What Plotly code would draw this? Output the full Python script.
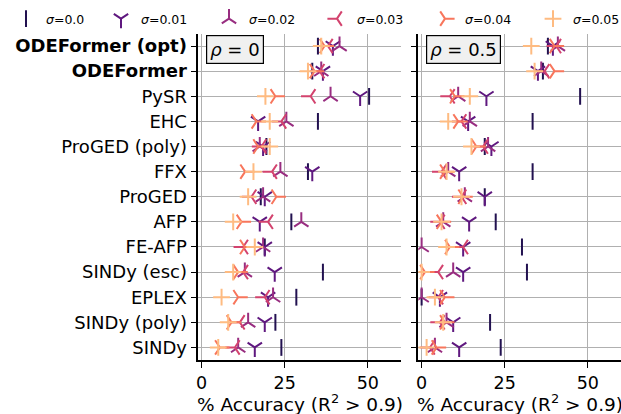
import plotly.graph_objects as go

methods = ["ODEFormer (opt)", "ODEFormer", "PySR", "EHC", "ProGED (poly)", "FFX",
           "ProGED", "AFP", "FE-AFP", "SINDy (esc)", "EPLEX", "SINDy (poly)", "SINDy"]
method_labels = ["<b>ODEFormer (opt)</b>", "<b>ODEFormer</b>"] + methods[2:]
sigmas = ["0.0", "0.01", "0.02", "0.03", "0.04", "0.05"]
x_ticks = [0, 25, 50]

# accuracy (%) for rho = 0, one list per noise level sigma, rows in method order
rho0_s000 = [35, 33.3, 50.4, 35, 19.5, 32, 17.8, 27, 19, 36.5, 28.5, 22.2, 24]
rho0_s001 = [39.5, 36.5, 47.7, 17, 18.5, 33.3, 19, 17.5, 19, 22, 20, 19, 16]
rho0_s002 = [41.5, 36, 38.8, 25.5, 17.5, 23.7, 18.5, 30, 18.5, 13, 21.5, 14, 11]
rho0_s003 = [38, 35.5, 32.8, 24, 18, 21.2, 15, 20, 12.5, 12.5, 19, 11.5, 10]
rho0_s004 = [37, 34, 22.2, 16.5, 17, 13.1, 22.5, 12, 13, 11, 11, 9, 5.5]
rho0_s005 = [36, 32, 19.2, 20.5, 20.5, 15.6, 14, 9.5, 16, 9.5, 6, 8, 5]

# accuracy (%) for rho = 0.5
rho05_s000 = [38, 36.5, 47.7, 33.4, 19, 33.4, 19, 22.3, 30.2, 31.7, 0, 20.6, 23.8]
rho05_s001 = [39.5, 35, 19.5, 14, 21, 11.3, 19, 14.3, 12.5, 12.5, 5.5, 9.5, 11.3]
rho05_s002 = [41, 36, 11, 14.5, 20, 8, 13, 6.5, 0, 9.5, 0, 7.5, 4]
rho05_s003 = [40.5, 37, 8.5, 12, 18.5, 6, 12, 5.5, 12.5, 5, 5, 5.5, 2.5]
rho05_s004 = [40, 40, 10, 11, 16.5, 7, 12.5, 6, 8.5, 1, 7, 7, 4.5]
rho05_s005 = [33, 34, 14.5, 8, 15, 7.5, 12, 6, 7.5, 0, 4, 6.5, 1.5]

rho0 = [rho0_s000, rho0_s001, rho0_s002, rho0_s003, rho0_s004, rho0_s005]
rho05 = [rho05_s000, rho05_s001, rho05_s002, rho05_s003, rho05_s004, rho05_s005]

colors = ['#221150', '#5f187f', '#982d80', '#d3436e', '#f8765c', '#febb81']
symbols = ['line-ns', 'y-down', 'y-up', 'y-left', 'y-right', 'cross-thin']

FONT = "DejaVu Sans"
W, H = 621, 414
rows = list(range(len(methods)))

fig = go.Figure()
for panel, data in enumerate([rho0, rho05]):
    xa = 'x' if panel == 0 else 'x2'
    ya = 'y' if panel == 0 else 'y2'
    for i, s in enumerate(sigmas):
        fig.add_trace(go.Scatter(
            x=data[i], y=rows, mode='markers', xaxis=xa, yaxis=ya,
            name=f"<i>σ</i>={s}", showlegend=(panel == 0), legendgroup=s,
            legend='legend' if i == 0 else 'legend2',
            marker=dict(symbol=symbols[i], size=12, color=colors[i],
                        line=dict(color=colors[i], width=2)),
        ))

xdomL = [198.3 / W, 401 / W]
xdomR = [418.3 / W, 1.0]
ydom = [1 - 360 / H, 1 - 33.5 / H]

axis_common = dict(showgrid=True, gridcolor='#b0b0b0', gridwidth=1.3, zeroline=False,
                   showline=True, linecolor='black', linewidth=1.5, ticks='outside',
                   ticklen=6, tickcolor='black', tickwidth=1.3)

legend_common = dict(orientation='h', y=1 - 4 / H, xanchor='left', yanchor='top',
                     font=dict(size=12.5, family=FONT), bgcolor='rgba(0,0,0,0)')

fig.update_layout(
    width=W, height=H, margin=dict(l=0, r=0, t=0, b=0, autoexpand=False),
    paper_bgcolor='white', plot_bgcolor='white',
    font=dict(family=FONT, color='black'),
    showlegend=True,
    legend=dict(x=6 / W, **legend_common),
    legend2=dict(x=101 / W, entrywidth=63, entrywidthmode='pixels', **legend_common),
    xaxis=dict(domain=xdomL, range=[-1, 60], tickvals=x_ticks, anchor='y',
               tickfont=dict(size=17.5), automargin=False, **axis_common),
    yaxis=dict(domain=ydom, range=[12.5, -0.5], tickvals=rows, ticktext=method_labels,
               anchor='x', tickfont=dict(size=18), automargin=False, **axis_common),
    xaxis2=dict(domain=xdomR, range=[-1, 60], tickvals=x_ticks, anchor='y2',
                tickfont=dict(size=17.5), automargin=False, **axis_common),
    yaxis2=dict(domain=ydom, range=[12.5, -0.5], tickvals=rows, showticklabels=False,
                anchor='x2', automargin=False, **axis_common),
)

# panel boxes
for dom, txt in [(xdomL, "<i>ρ</i> = 0"), (xdomR, "<i>ρ</i> = 0.5")]:
    fig.add_annotation(xref='paper', yref='paper', x=dom[0] + 7.5 / W, y=1 - 35 / H,
                       xanchor='left', yanchor='top', text=txt, showarrow=False,
                       font=dict(size=18, family=FONT), bgcolor='#f0f0f0',
                       bordercolor='black', borderwidth=1.2, borderpad=3)

# x-axis titles (centred under each panel)
for dom in [xdomL, xdomR]:
    fig.add_annotation(xref='paper', yref='paper', x=dom[0] + 101.3 / W,
                       y=1 - 403 / H, xanchor='center', yanchor='middle',
                       text="% Accuracy (R<sup>2</sup> &gt; 0.9)", showarrow=False,
                       font=dict(size=18.5, family=FONT))

fig.write_html("out.html", config={'displayModeBar': False},
               post_script="document.body.style.margin='0';")
